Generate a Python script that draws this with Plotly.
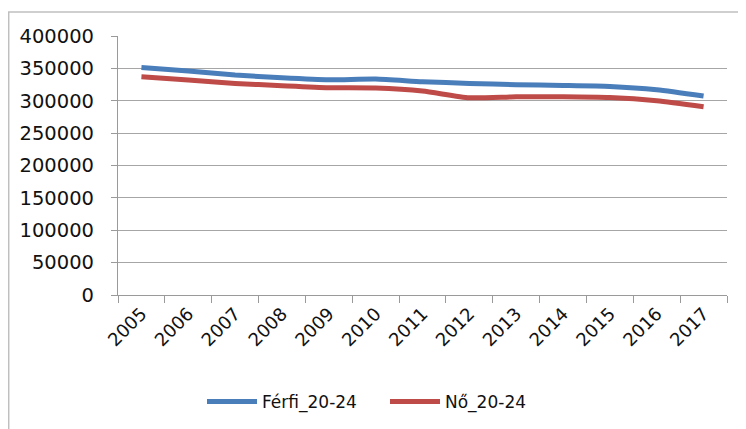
import plotly.graph_objects as go

years = [str(y) for y in range(2005, 2018)]
ferfi = [351500, 345900, 339700, 335600, 332500, 333500, 329400, 326800, 324700, 323700, 322200, 317000, 307200]
no = [337100, 332000, 326800, 323200, 320100, 319600, 315000, 304600, 306200, 306200, 305000, 300000, 290700]
series_names = ["Férfi_20-24", "Nő_20-24"]
y_ticks = [0, 50000, 100000, 150000, 200000, 250000, 300000, 350000, 400000]

# page body has an 8px margin; figure coordinates below are screen coords minus 8
OFF = 8
W, H = 746 - OFF, 429 - OFF
L, R, T, B = 118 - OFF, 727 - OFF, 36 - OFF, 295 - OFF

fig = go.Figure()
fig.add_trace(go.Scatter(x=years, y=ferfi, name=series_names[0], mode="lines",
                         line=dict(color="#4A7EBB", width=5, shape="spline", smoothing=0.6)))
fig.add_trace(go.Scatter(x=years, y=no, name=series_names[1], mode="lines",
                         line=dict(color="#BE4B48", width=5, shape="spline", smoothing=0.6)))

def px_x(p):
    return (p - OFF - L) / (R - L)

def px_y(p):
    return (B - (p - OFF)) / (B - T)

frame = "#BFBFBF"
fig.add_shape(type="line", xref="paper", yref="paper", x0=px_x(8.7), x1=px_x(8.7), y0=px_y(12), y1=px_y(440),
              line=dict(color=frame, width=1.5))
fig.add_shape(type="line", xref="paper", yref="paper", x0=px_x(8), x1=px_x(760), y0=px_y(12), y1=px_y(12),
              line=dict(color=frame, width=1.5))

axis_col = "#9A9A9A"
fig.update_layout(
    width=W, height=H,
    margin=dict(l=L, r=W - R, t=T, b=H - B, pad=0, autoexpand=False),
    paper_bgcolor="white", plot_bgcolor="white",
    font=dict(family="DejaVu Sans", size=18, color="#111111"),
    showlegend=True,
    legend=dict(orientation="h", x=px_x(202), xanchor="left", y=px_y(402), yanchor="middle",
                font=dict(size=17), itemwidth=50, traceorder="normal", tracegroupgap=0,
                entrywidth=118, entrywidthmode="pixels"),
    xaxis=dict(type="category", range=[-0.5, 12.5], showgrid=False, showline=True, linecolor=axis_col,
               linewidth=1.2, ticks="outside", ticklen=7, tickcolor=axis_col, tickson="boundaries",
               tickangle=-45, tickfont=dict(size=18), zeroline=False, automargin=False),
    yaxis=dict(range=[0, 400000], tickvals=y_ticks, ticktext=[str(v) for v in y_ticks],
               showgrid=True, gridcolor="#A6A6A6", gridwidth=1.2, showline=True, linecolor=axis_col,
               linewidth=1.2, ticks="outside", ticklen=6, tickcolor=axis_col, zeroline=False,
               tickfont=dict(size=19.5), ticklabelstandoff=13, automargin=False),
)

fig.write_html("out.html")
